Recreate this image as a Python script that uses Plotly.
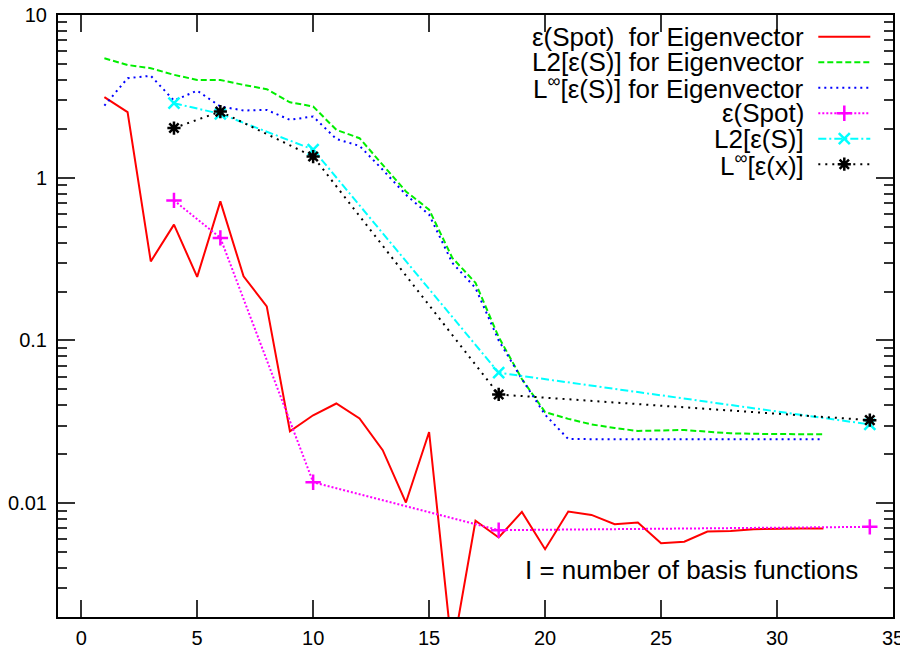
import plotly.graph_objects as go

# ---- data ----
x_eig = list(range(1, 33))
eps_spot_eig = [3.13, 2.53, 0.306, 0.515, 0.246, 0.716, 0.248, 0.162, 0.0277, 0.0347,
                0.041, 0.0332, 0.0212, 0.0101, 0.0274, 0.0012, 0.0078, 0.00616, 0.00885, 0.00522,
                0.00889, 0.00848, 0.00743, 0.00762, 0.00568, 0.0058, 0.0067, 0.00676, 0.00692, 0.00699,
                0.007, 0.007]
l2_eig = [5.42, 4.93, 4.71, 4.29, 3.99, 3.99, 3.72, 3.50, 2.91, 2.74,
          1.97, 1.75, 1.20, 0.824, 0.637, 0.322, 0.226, 0.105, 0.058, 0.0363,
          0.033, 0.0305, 0.029, 0.0278, 0.028, 0.0282, 0.0275, 0.0269, 0.0267, 0.0266,
          0.0265, 0.0265]
linf_eig = [2.77, 4.09, 4.23, 2.98, 3.43, 2.74, 2.59, 2.61, 2.27, 2.38,
            1.73, 1.57, 1.12, 0.786, 0.593, 0.30, 0.21, 0.10, 0.058, 0.035,
            0.0248, 0.0247, 0.0247, 0.0247, 0.0247, 0.0247, 0.0247, 0.0247, 0.0247, 0.0247,
            0.0247, 0.0247]

x_sp = [4, 6, 10, 18, 34]
eps_spot = [0.726, 0.427, 0.01346, 0.00683, 0.00716]
l2_s = [2.87, 2.47, 1.49, 0.0634, 0.0305]
linf_x = [2.02, 2.55, 1.35, 0.0466, 0.0324]

x_ticks = [0, 5, 10, 15, 20, 25, 30, 35]
y_ticks = [0.01, 0.1, 1, 10]
y_ticktext = ["0.01", "0.1", "1", "10"]
y_minor = [m * 10.0 ** e for e in (-3, -2, -1, 0) for m in range(2, 10)]

legend_labels = ["ε(Spot)  for Eigenvector", "L2[ε(S)] for Eigenvector",
                 "L<sup>∞</sup>[ε(S)] for Eigenvector", "ε(Spot)", "L2[ε(S)]",
                 "L<sup>∞</sup>[ε(x)]"]

FONT = "Liberation Sans, Arial, Helvetica, sans-serif"

styles = [
    dict(color="#ff0000", dash="solid", symbol=None),
    dict(color="#00ee00", dash="6px,3px", symbol=None),
    dict(color="#0000ff", dash="2px,4px", symbol=None),
    dict(color="#ff00ff", dash="2px,2px", symbol="cross-thin-open"),
    dict(color="#00ffff", dash="8px,3px,2px,3px", symbol="x-thin-open"),
    dict(color="#000000", dash="2px,5px", symbol="asterisk-open"),
]

series = [(x_eig, eps_spot_eig), (x_eig, l2_eig), (x_eig, linf_eig),
          (x_sp, eps_spot), (x_sp, l2_s), (x_sp, linf_x)]

fig = go.Figure()
for (xs, ys), st in zip(series, styles):
    mode = "lines+markers" if st["symbol"] else "lines"
    marker = dict(symbol=st["symbol"], size=11, color=st["color"],
                  line=dict(color=st["color"], width=2.5)) if st["symbol"] else None
    fig.add_trace(go.Scatter(x=xs, y=ys, mode=mode, showlegend=False,
                             line=dict(color=st["color"], width=2, dash=st["dash"]),
                             marker=marker))

# page body has an 8px margin: figure is placed at (8, 8) in the window
OFF = 8
FW, FH = 908 - OFF, 650 - OFF
L, R, T, B = 57.7 - OFF, 892.7 - OFF, 15.3 - OFF, 617.3 - OFF
W, H = R - L, B - T
row_y = [37 - OFF, 62.5 - OFF, 88 - OFF, 113.5 - OFF, 139 - OFF, 164.5 - OFF]
for lab, yy, st in zip(legend_labels, row_y, styles):
    py = (B - yy) / H
    fig.add_annotation(text=lab, xref="paper", yref="paper",
                       x=(806 - OFF - L) / W, y=py, xanchor="right", yanchor="middle",
                       showarrow=False, font=dict(family=FONT, size=26, color="black"))
    fig.add_trace(go.Scatter(x=[(818 - OFF - L) / W, (870 - OFF - L) / W], y=[py, py],
                             xaxis="x2", yaxis="y2", mode="lines", showlegend=False,
                             hoverinfo="skip",
                             line=dict(color=st["color"], width=2, dash=st["dash"])))
    if st["symbol"]:
        fig.add_trace(go.Scatter(x=[(844 - OFF - L) / W], y=[py], xaxis="x2", yaxis="y2",
                                 mode="markers", showlegend=False, hoverinfo="skip",
                                 marker=dict(symbol=st["symbol"], size=11, color=st["color"],
                                             line=dict(color=st["color"], width=2.5))))

fig.add_annotation(text="I = number of basis functions", xref="paper", yref="paper",
                   x=(523 - OFF - L) / W, y=(B - (570 - OFF)) / H, xanchor="left",
                   yanchor="middle", showarrow=False,
                   font=dict(family=FONT, size=26, color="black"))

fig.update_layout(
    width=FW, height=FH,
    margin=dict(l=L, r=FW - R, t=T, b=FH - B, autoexpand=False),
    paper_bgcolor="white", plot_bgcolor="white",
    font=dict(family=FONT, size=20, color="black"),
    xaxis=dict(range=[-1, 35], tickvals=x_ticks, ticks="inside", ticklen=17,
               tickwidth=1.5, tickcolor="#333", showgrid=False, zeroline=False,
               showline=True, linecolor="black", linewidth=2, mirror="ticks",
               automargin=False, ticklabelstandoff=2, ticklabeloverflow="allow",
               tickfont=dict(size=20)),
    yaxis=dict(type="log", range=[-2.699, 1], tickvals=y_ticks, ticktext=y_ticktext,
               ticks="inside", ticklen=17, tickwidth=1.5, tickcolor="#333",
               showgrid=False, zeroline=False, showline=True, linecolor="black",
               linewidth=2, mirror="ticks", automargin=False, ticklabelstandoff=5,
               ticklabeloverflow="allow",
               minor=dict(ticks="inside", ticklen=9, tickwidth=1.5, tickcolor="#333",
                          tickmode="array", tickvals=y_minor, showgrid=False),
               tickfont=dict(size=20)),
    xaxis2=dict(overlaying="x", range=[0, 1], visible=False, fixedrange=True),
    yaxis2=dict(overlaying="y", range=[0, 1], visible=False, fixedrange=True),
)

fig.write_html("out.html")
